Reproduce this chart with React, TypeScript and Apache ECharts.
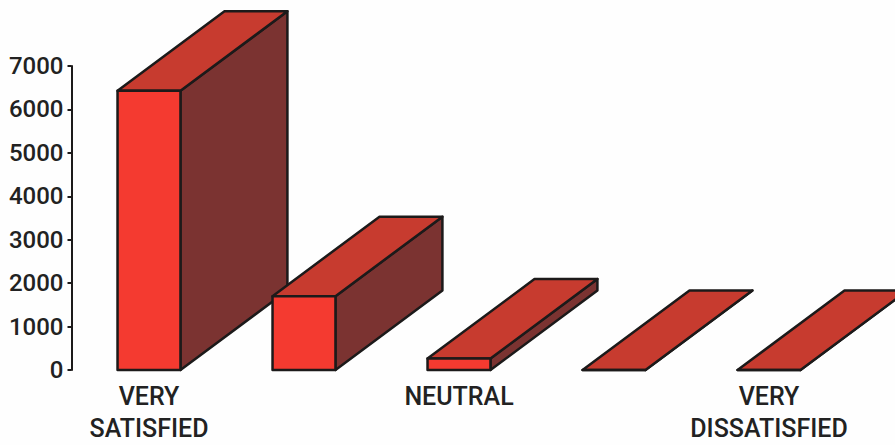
import React, { useEffect, useRef } from "react";
import * as echarts from "echarts";

const categories = ["VERY\nSATISFIED", "", "NEUTRAL", "", "VERY\nDISSATISFIED"];
const responses = [6430, 1700, 265, 0, 0];
const yTicks = [0, 1000, 2000, 3000, 4000, 5000, 6000, 7000];

const FRONT = "#f43a30";
const TOP = "#c73b2f";
const SIDE = "#7b3331";
const EDGE = "#1c1a1a";
const FONT = "Roboto";

export default function App() {
  const ref = useRef<HTMLDivElement>(null);
  useEffect(() => {
    const chart = echarts.init(ref.current!, undefined, { renderer: "svg" });
    const renderItem = (_p: any, api: any) => {
      const i = api.value(0);
      const v = api.value(1);
      const [cx, y0] = api.coord([i, 0]);
      const [, y1] = api.coord([i, v]);
      const band = api.size([1, 0])[0];
      const w = band * 0.406;
      const dx = band * 0.69;
      const dy = api.size([0, 1830])[1];
      const l = cx - w / 2;
      const r = cx + w / 2;
      const style = (fill: string) => ({ fill, stroke: EDGE, lineWidth: 2.5, lineJoin: "round" });
      return {
        type: "group",
        children: [
          { type: "polygon", shape: { points: [[r, y0], [r + dx, y0 - dy], [r + dx, y1 - dy], [r, y1]] }, style: style(SIDE) },
          { type: "polygon", shape: { points: [[l, y1], [l + dx, y1 - dy], [r + dx, y1 - dy], [r, y1]] }, style: style(TOP) },
          { type: "polygon", shape: { points: [[l, y0], [r, y0], [r, y1], [l, y1]] }, style: style(FRONT) },
        ],
      };
    };
    chart.setOption({
      animation: false,
      backgroundColor: "#fefefe",
      grid: { left: 71.5, top: 66, width: 775, height: 304 },
      xAxis: {
        type: "category",
        data: categories,
        axisLine: { show: false },
        axisTick: { show: false },
        axisLabel: { interval: 0, margin: 10, color: "#222", fontFamily: FONT, fontSize: 25, fontWeight: 500, lineHeight: 32 },
      },
      yAxis: {
        type: "value",
        min: yTicks[0],
        max: yTicks[yTicks.length - 1],
        interval: 1000,
        splitLine: { show: false },
        axisLine: { show: true, lineStyle: { color: EDGE, width: 2 } },
        axisTick: { show: true, length: 4, lineStyle: { color: EDGE, width: 2 } },
        axisLabel: { margin: 8, color: "#222", fontFamily: FONT, fontSize: 24, fontWeight: 500, formatter: (v: number) => String(v) },
      },
      series: [
        {
          type: "custom",
          clip: false,
          renderItem,
          encode: { x: 0, y: 1 },
          data: responses.map((v, i) => [i, v]),
        },
      ],
    });
    return () => chart.dispose();
  }, []);
  return <div ref={ref} style={{ position: "fixed", left: 0, top: 0, width: 895, height: 445 }} />;
}
